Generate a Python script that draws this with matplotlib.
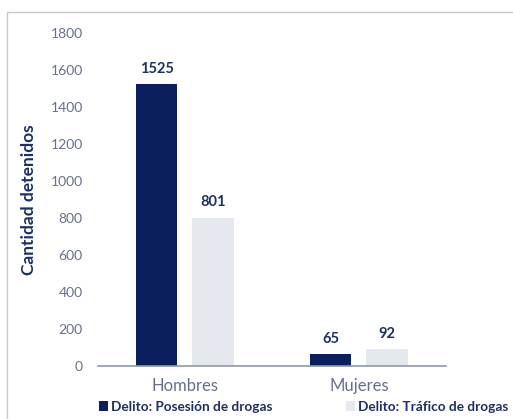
import numpy as np
import matplotlib.pyplot as plt
from matplotlib.patches import Rectangle

categorias = ['Hombres', 'Mujeres']
posesion = [1525, 65]
trafico = [801, 92]
series = ['Delito: Posesión de drogas', 'Delito: Tráfico de drogas']

oscuro = '#0b1f5e'
claro = '#e6e8f0'
texto = '#1c2f66'
gris = '#66708c'

plt.rcParams['font.family'] = ['Lato', 'DejaVu Sans']

fig = plt.figure(figsize=(5.13, 4.19), dpi=100)
fig.patches.append(Rectangle((7 / 513, -0.1), 1.2, 1.1 - 12 / 419, transform=fig.transFigure,
                             fill=False, edgecolor='#c8c8c8', linewidth=1.0))
ax = fig.add_axes([0.191, 0.1265, 0.678, 0.7947])

x = np.arange(len(categorias))
w = 0.24
b1 = ax.bar(x - 0.163, posesion, w, color=oscuro, label=series[0])
b2 = ax.bar(x + 0.163, trafico, w, color=claro, label=series[1])

for bars in (b1, b2):
    for r in bars:
        ax.annotate(str(int(r.get_height())), (r.get_x() + r.get_width() / 2, r.get_height()),
                    xytext=(0, 6), textcoords='offset points', ha='center', va='bottom',
                    fontsize=10.5, fontweight='bold', color=texto)

ax.set_ylim(0, 1800)
ax.set_xlim(-0.5, 1.5)
ax.set_yticks(np.arange(0, 1801, 200))
ax.set_xticks(x)
ax.set_xticklabels(categorias, fontsize=12, color=gris)
ax.tick_params(axis='y', labelsize=10, colors=gris, length=0, pad=11)
ax.tick_params(axis='x', length=0, pad=9)
for s in ['top', 'right', 'left']:
    ax.spines[s].set_visible(False)
ax.spines['bottom'].set_color('#9098a8')
ax.spines['bottom'].set_linewidth(1.2)
ax.set_ylabel('Cantidad detenidos', fontsize=12.5, fontweight='bold', color=texto)
ax.yaxis.set_label_coords(-0.175, 0.5)

leg = fig.legend(handles=[b1, b2], loc='center left', bbox_to_anchor=(99 / 513, 0.0286), ncol=2,
                 frameon=False, borderpad=0, borderaxespad=0, handlelength=0.65, handleheight=0.8,
                 handletextpad=0.25, columnspacing=5.4, prop={'size': 9.8, 'weight': 'bold'})
for t in leg.get_texts():
    t.set_color(texto)

fig.savefig('out.png', dpi=100)
